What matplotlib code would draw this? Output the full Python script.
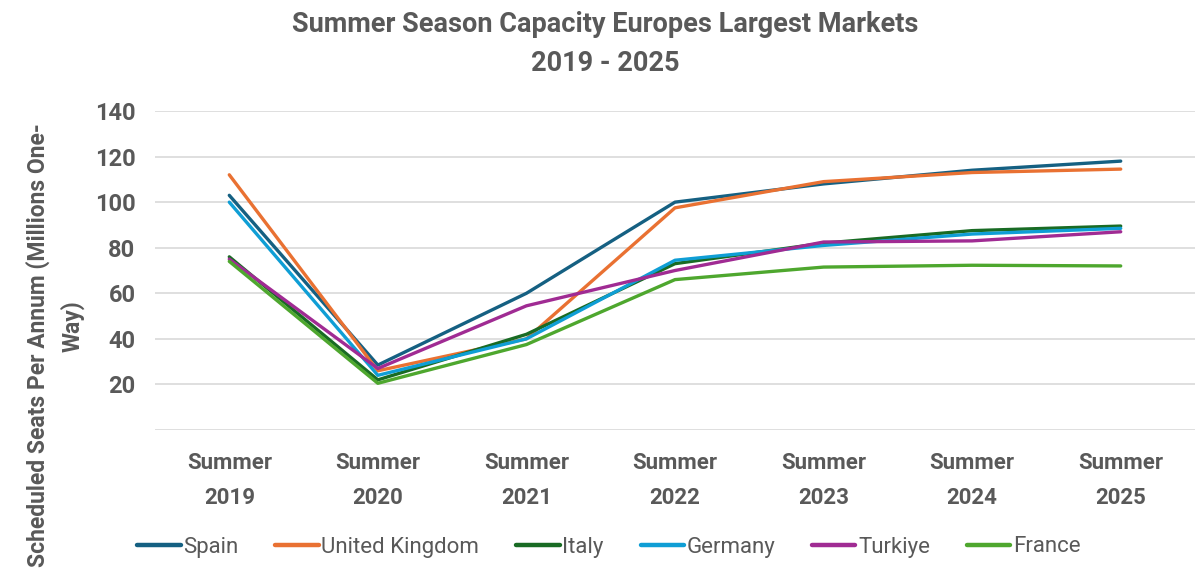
import matplotlib
matplotlib.use("Agg")
import matplotlib.pyplot as plt

categories = ["Summer\n2019", "Summer\n2020", "Summer\n2021", "Summer\n2022",
              "Summer\n2023", "Summer\n2024", "Summer\n2025"]
spain = [103, 28.5, 60, 100, 108, 114, 118]
uk = [112, 26, 40, 97.5, 109, 113, 114.5]
italy = [76, 22, 42, 73, 82, 87.5, 89.5]
germany = [100, 24, 40, 74.5, 81, 86, 88.5]
turkiye = [75, 27, 54.5, 70, 82.5, 83, 87]
france = [74, 20.5, 37.5, 66, 71.5, 72.3, 72]

series_names = ["Spain", "United Kingdom", "Italy", "Germany", "Turkiye", "France"]
series_values = [spain, uk, italy, germany, turkiye, france]
colors = ["#156082", "#E97132", "#196B24", "#0F9ED5", "#A02B93", "#4EA72E"]
yticks = [0, 20, 40, 60, 80, 100, 120, 140]
ytick_labels = ["", "20", "40", "60", "80", "100", "120", "140"]

title = "Summer Season Capacity Europes Largest Markets\n2019 - 2025"
ylabel_1 = "Scheduled Seats Per Annum (Millions One-"
ylabel_2 = "Way)"

plt.rcParams['font.family'] = ['Roboto', 'DejaVu Sans']
grey = "#595959"

fig = plt.figure(figsize=(12, 5.77), dpi=100)
ax = fig.add_axes([155/1200, 1 - 430/577, 1040/1200, (430 - 111)/577])

x = list(range(len(categories)))
for name, vals, c in zip(series_names, series_values, colors):
    ax.plot(x, vals, color=c, lw=2.4, label=name, solid_capstyle='round',
            solid_joinstyle='round')

ax.set_xlim(-0.5, 6.5)
ax.set_ylim(0, 140)
ax.set_yticks(yticks)
ax.set_yticklabels(ytick_labels)
ax.set_xticks(x)
ax.set_xticklabels(categories, linespacing=1.75)
for lab in ax.get_xticklabels():
    lab.set_fontweight('bold')
    lab.set_fontsize(16)
    lab.set_color(grey)
for lab in ax.get_yticklabels():
    lab.set_fontweight('bold')
    lab.set_fontsize(17)
    lab.set_color(grey)
ax.tick_params(axis='x', length=0, pad=16)
ax.tick_params(axis='y', length=0, pad=14)
ax.grid(axis='y', color='#d9d9d9', lw=1.2)
ax.set_axisbelow(True)
for s in ax.spines.values():
    s.set_visible(False)

fig.text(605/1200, 1 - 44/577, title, ha='center', va='center',
         fontsize=19.5, fontweight='bold', color=grey, linespacing=1.6)

fig.text(38/1200, 1 - 123/577, ylabel_1, rotation=90, ha='center', va='top',
         fontsize=16.5, fontweight='bold', color=grey)
fig.text(72/1200, 1 - 326/577, ylabel_2, rotation=90, ha='center', va='center',
         fontsize=16.5, fontweight='bold', color=grey)

leg = fig.legend(loc='center', bbox_to_anchor=(609/1200, 1 - 547/577), ncol=6,
                 frameon=False, fontsize=16, handlelength=1.95, handletextpad=0.12,
                 columnspacing=1.66)
for t in leg.get_texts():
    t.set_color(grey)
for h in leg.get_lines():
    h.set_linewidth(3.2)

fig.savefig("out.png", dpi=100)
